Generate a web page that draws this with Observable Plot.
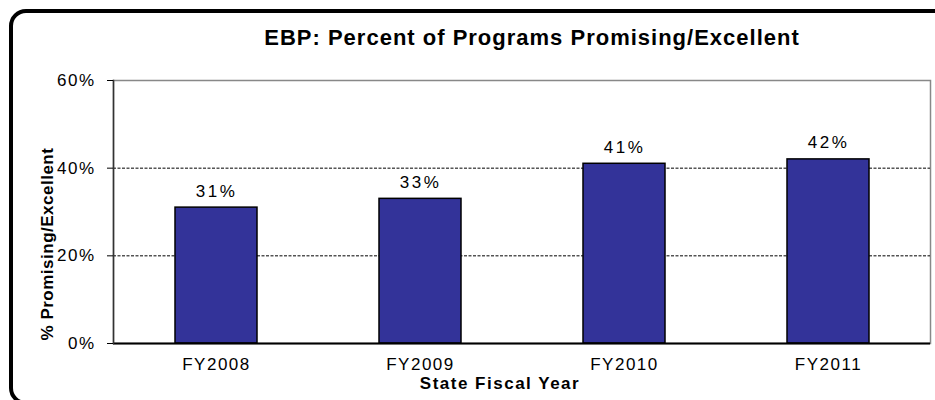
<!DOCTYPE html>
<html>
<head>
<meta charset="utf-8">
<script src="https://cdn.jsdelivr.net/npm/d3@7"></script>
<script src="https://cdn.jsdelivr.net/npm/@observablehq/plot@0.6"></script>
<style>
  html, body { margin: 0; padding: 0; background: #fff; }
  #wrap { position: relative; width: 935px; height: 400px; overflow: hidden; }
  #border { position: absolute; left: 9px; top: 9px; width: 960px; height: 388px;
            border: 4px solid #000; border-radius: 17px; pointer-events: none; }
  svg text { font-family: "Liberation Sans", Arial, sans-serif; }
  g[aria-label="x-axis tick label"] text { letter-spacing: 1.5px; }
  g[aria-label="y-axis tick label"] text { letter-spacing: 1.5px; }
  .vlabel text { letter-spacing: 2.5px; }
  .title text { letter-spacing: 1px; }
  .xlabel text { letter-spacing: 1.5px; }
  .ylabel text { letter-spacing: 0.5px; }
</style>
</head>
<body>
<div id="wrap"><div id="border"></div></div>
<script>
const years = ["FY2008", "FY2009", "FY2010", "FY2011"];
const percents = [31, 33, 41, 42];
const yTicks = [0, 20, 40, 60];
const gridTicks = [20, 40];
const titleText = "EBP: Percent of Programs Promising/Excellent";
const xLabel = "State Fiscal Year";
const yLabel = "% Promising/Excellent";

const data = years.map((year, i) => ({year, pct: percents[i]}));

const chart = Plot.plot({
  width: 935,
  height: 400,
  marginLeft: 113,
  marginRight: 5,
  marginTop: 80,
  marginBottom: 57,
  style: {fontFamily: "Liberation Sans, Arial, sans-serif", background: "transparent"},
  x: {domain: years, paddingInner: 0.6, paddingOuter: 0.3, label: null},
  y: {domain: [0, 60], label: null},
  marks: [
    Plot.frame({stroke: "#888", strokeWidth: 1.5}),
    Plot.ruleY(gridTicks, {stroke: "#000", strokeWidth: 1, strokeDasharray: "3,1.5"}),
    Plot.barY(data, {x: "year", y: "pct", fill: "#333399", stroke: "#000", strokeWidth: 1.5}),
    Plot.ruleY([0], {stroke: "#000", strokeWidth: 2}),
    Plot.frame({anchor: "left", stroke: "#333", strokeWidth: 1.5}),
    Plot.text(data, {x: "year", y: "pct", text: d => d.pct + "%", dy: -11, lineAnchor: "bottom",
      fontSize: 17, fill: "#000", className: "vlabel"}),
    Plot.axisY({ticks: yTicks, tickSize: 6, tickPadding: 12, tickFormat: d => d + "%",
      fontSize: 17, label: null, stroke: "#000"}),
    Plot.axisX({tickSize: 0, tickPadding: 14, fontSize: 17, label: null}),
    Plot.text([titleText], {frameAnchor: "top", textAnchor: "middle", dx: 10, dy: -43, lineAnchor: "middle",
      fontSize: 22, fontWeight: "bold", className: "title"}),
    Plot.text([xLabel], {frameAnchor: "bottom", textAnchor: "middle", dx: -22, dy: 40, lineAnchor: "middle",
      fontSize: 17, fontWeight: "bold", className: "xlabel"}),
    Plot.text([yLabel], {frameAnchor: "left", textAnchor: "middle", dx: -66, dy: 32, rotate: -90, lineAnchor: "middle",
      fontSize: 17, fontWeight: "bold", className: "ylabel"})
  ]
});
document.getElementById("wrap").prepend(chart);
</script>
</body>
</html>
